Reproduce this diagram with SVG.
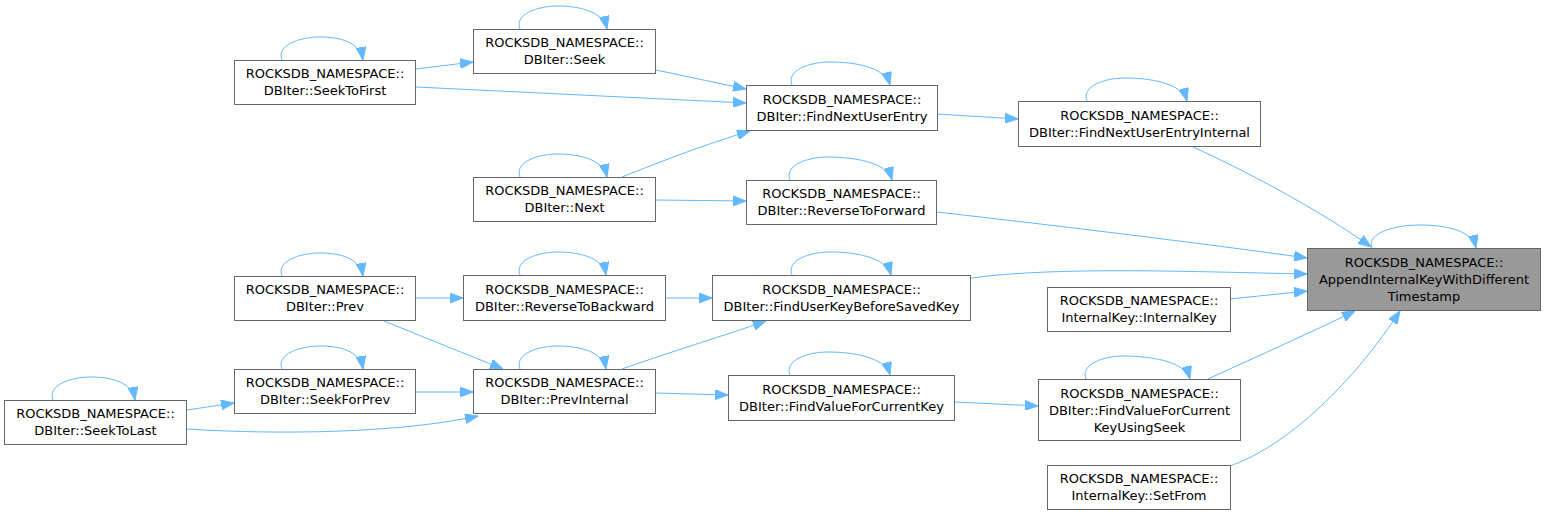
<svg xmlns="http://www.w3.org/2000/svg" width="1546" height="515" viewBox="0 0 1546 515">
<style>
.n rect{fill:#ffffff;stroke:#666666;stroke-width:1}
.m rect{fill:#999999;stroke:#666666;stroke-width:1}
text{font-family:"DejaVu Sans","Liberation Sans",sans-serif;font-size:13px;fill:#000000;text-anchor:middle}
.e path{fill:none;stroke:#63b8ff;stroke-width:1;marker-end:url(#ah)}
</style>
<defs>
<marker id="ah" markerUnits="userSpaceOnUse" markerWidth="13" markerHeight="10" viewBox="0 0 13 10" refX="13" refY="5" orient="auto">
<path d="M0,0 L13,5 L0,10 z" fill="#63b8ff" stroke="#63b8ff" stroke-width="1"/>
</marker>
</defs>
<rect width="1546" height="515" fill="#ffffff"/>
<g id="edges" class="e">
<path d="M416,69 L473,62"/>
<path d="M416,87 L746,103"/>
<path d="M656,70 L746,89"/>
<path d="M622,177 C660,162 700,146 750,131"/>
<path d="M937,114 L1018,119"/>
<path d="M1193,147 C1240,168 1320,210 1371,247"/>
<path d="M656,200 L746,201"/>
<path d="M937,212 C1060,226 1200,243 1307,258"/>
<path d="M416,298 L463,298"/>
<path d="M666,298 L712,298"/>
<path d="M971,278 C1060,266 1200,272 1307,274"/>
<path d="M1230,299 L1307,291"/>
<path d="M384,321 L503,369"/>
<path d="M622,369 C670,352 720,337 766,321"/>
<path d="M416,392 L473,392"/>
<path d="M187,410 L234,403"/>
<path d="M187,429 C280,435 400,433 478,416"/>
<path d="M656,393 L728,395"/>
<path d="M955,402 L1038,406"/>
<path d="M1208,379 C1260,355 1310,333 1355,311"/>
<path d="M1230,466 C1290,445 1355,380 1400,311"/>
<path d="M282,60 C276,45 300,37 320,37 C340,37 360,42 363,60"/>
<path d="M520,29 C514,14 538,6 558,6 C578,6 603,11 607,29"/>
<path d="M792,85 C786,70 810,62 830,62 C855,62 885,67 890,85"/>
<path d="M1087,101 C1081,86 1105,78 1125,78 C1150,78 1182,83 1187,101"/>
<path d="M520,177 C514,162 538,154 558,154 C578,154 603,159 607,177"/>
<path d="M790,180 C784,165 808,157 828,157 C853,157 887,162 892,180"/>
<path d="M282,276 C276,261 300,253 320,253 C340,253 360,258 363,276"/>
<path d="M520,275 C514,260 538,252 558,252 C578,252 603,257 606,275"/>
<path d="M792,275 C786,260 810,252 830,252 C855,252 886,257 891,275"/>
<path d="M1372,248 C1366,233 1395,225 1420,225 C1445,225 1472,230 1476,248"/>
<path d="M282,369 C276,354 300,346 320,346 C340,346 360,351 363,369"/>
<path d="M520,369 C514,354 538,346 558,346 C578,346 603,351 606,369"/>
<path d="M53,400 C47,385 71,377 91,377 C111,377 132,382 135,400"/>
<path d="M790,375 C784,360 808,352 828,352 C853,352 885,357 890,375"/>
<path d="M1086,379 C1080,364 1104,356 1124,356 C1149,356 1185,361 1190,379"/>
</g>
<g id="SeekToFirst" class="n"><rect x="234.5" y="60.5" width="181" height="44"/><text x="325" y="78">ROCKSDB_NAMESPACE::</text><text x="325" y="95">DBIter::SeekToFirst</text></g>
<g id="Seek" class="n"><rect x="473.5" y="29.5" width="182" height="44"/><text x="564.5" y="47">ROCKSDB_NAMESPACE::</text><text x="564.5" y="64">DBIter::Seek</text></g>
<g id="FindNextUserEntry" class="n"><rect x="746.5" y="85.5" width="191" height="45"/><text x="842" y="103.5">ROCKSDB_NAMESPACE::</text><text x="842" y="120.5">DBIter::FindNextUserEntry</text></g>
<g id="FindNextUserEntryInternal" class="n"><rect x="1018.5" y="101.5" width="242" height="45"/><text x="1139.5" y="119.5">ROCKSDB_NAMESPACE::</text><text x="1139.5" y="136.5">DBIter::FindNextUserEntryInternal</text></g>
<g id="Next" class="n"><rect x="473.5" y="177.5" width="182" height="44"/><text x="564.5" y="195">ROCKSDB_NAMESPACE::</text><text x="564.5" y="212">DBIter::Next</text></g>
<g id="ReverseToForward" class="n"><rect x="746.5" y="180.5" width="190" height="44"/><text x="841.5" y="198">ROCKSDB_NAMESPACE::</text><text x="841.5" y="215">DBIter::ReverseToForward</text></g>
<g id="Prev" class="n"><rect x="234.5" y="276.5" width="181" height="44"/><text x="325" y="294">ROCKSDB_NAMESPACE::</text><text x="325" y="311">DBIter::Prev</text></g>
<g id="ReverseToBackward" class="n"><rect x="463.5" y="275.5" width="202" height="45"/><text x="564.5" y="293.5">ROCKSDB_NAMESPACE::</text><text x="564.5" y="310.5">DBIter::ReverseToBackward</text></g>
<g id="FindUserKeyBeforeSavedKey" class="n"><rect x="712.5" y="275.5" width="258" height="45"/><text x="841.5" y="293.5">ROCKSDB_NAMESPACE::</text><text x="841.5" y="310.5">DBIter::FindUserKeyBeforeSavedKey</text></g>
<g id="InternalKey" class="n"><rect x="1047.5" y="287.5" width="183" height="44"/><text x="1139" y="305">ROCKSDB_NAMESPACE::</text><text x="1139" y="322">InternalKey::InternalKey</text></g>
<g id="AppendInternalKeyWithDifferentTimestamp" class="m"><rect x="1307.5" y="248.5" width="233" height="62"/><text x="1424" y="266.5">ROCKSDB_NAMESPACE::</text><text x="1424" y="283.5">AppendInternalKeyWithDifferent</text><text x="1424" y="300.5">Timestamp</text></g>
<g id="SeekForPrev" class="n"><rect x="234.5" y="369.5" width="181" height="44"/><text x="325" y="387">ROCKSDB_NAMESPACE::</text><text x="325" y="404">DBIter::SeekForPrev</text></g>
<g id="PrevInternal" class="n"><rect x="473.5" y="369.5" width="182" height="44"/><text x="564.5" y="387">ROCKSDB_NAMESPACE::</text><text x="564.5" y="404">DBIter::PrevInternal</text></g>
<g id="SeekToLast" class="n"><rect x="4.5" y="400.5" width="182" height="44"/><text x="95.5" y="418">ROCKSDB_NAMESPACE::</text><text x="95.5" y="435">DBIter::SeekToLast</text></g>
<g id="FindValueForCurrentKey" class="n"><rect x="728.5" y="375.5" width="226" height="45"/><text x="841.5" y="393.5">ROCKSDB_NAMESPACE::</text><text x="841.5" y="410.5">DBIter::FindValueForCurrentKey</text></g>
<g id="FindValueForCurrentKeyUsingSeek" class="n"><rect x="1038.5" y="379.5" width="202" height="61"/><text x="1139.5" y="397.5">ROCKSDB_NAMESPACE::</text><text x="1139.5" y="414.5">DBIter::FindValueForCurrent</text><text x="1139.5" y="431.5">KeyUsingSeek</text></g>
<g id="SetFrom" class="n"><rect x="1047.5" y="465.5" width="183" height="44"/><text x="1139" y="483">ROCKSDB_NAMESPACE::</text><text x="1139" y="500">InternalKey::SetFrom</text></g>
</svg>
